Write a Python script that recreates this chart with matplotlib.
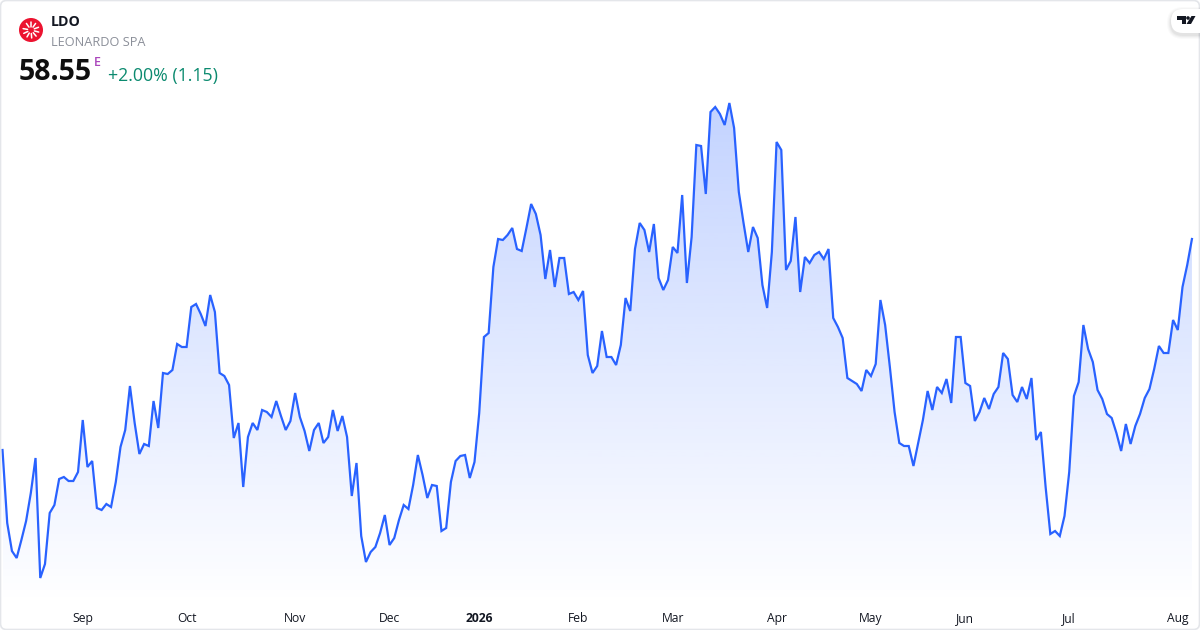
import numpy as np
import matplotlib
matplotlib.use('Agg')
import matplotlib.pyplot as plt
from matplotlib.patches import Circle, FancyBboxPatch, Polygon
from matplotlib.colors import LinearSegmentedColormap

plt.rcParams['font.family'] = ['Open Sans', 'DejaVu Sans']

# daily closes
prices = [
    48.00, 44.35, 42.95, 42.60, 43.50, 44.45, 45.85, 47.60, 41.60, 42.30, 44.85, 45.25, 46.55, 46.65, 46.45, 46.45,
    46.90, 49.50, 47.15, 47.45, 45.10, 45.00, 45.30, 45.15, 46.40, 48.15, 49.00, 51.20, 49.35, 47.80, 48.30, 48.20,
    50.45, 49.10, 51.85, 51.80, 52.00, 53.30, 53.15, 53.15, 55.15, 55.30, 54.80, 54.20, 55.75, 54.90, 51.85, 51.70,
    51.25, 48.60, 49.35, 46.15, 48.65, 49.35, 49.00, 50.00, 49.90, 49.65, 50.45, 49.70, 49.00, 49.45, 50.85, 49.65,
    48.95, 47.95, 49.00, 49.35, 48.35, 48.65, 50.00, 48.95, 49.70, 48.65, 45.70, 47.35, 43.70, 42.40, 42.90, 43.15,
    43.85, 44.75, 43.25, 43.60, 44.50, 45.25, 45.05, 46.25, 47.75, 46.75, 45.60, 46.25, 46.20, 43.95, 44.10, 46.40,
    47.45, 47.70, 47.75, 46.60, 47.40, 49.85, 53.65, 53.85, 57.15, 58.55, 58.50, 58.75, 59.10, 58.05, 57.95, 59.10,
    60.30, 59.80, 58.75, 56.55, 58.00, 56.15, 57.60, 57.60, 55.80, 55.90, 55.50, 55.95, 52.75, 51.85, 52.20, 53.95,
    52.65, 52.65, 52.25, 53.25, 55.60, 54.95, 58.05, 59.35, 59.00, 57.90, 59.30, 56.60, 56.00, 56.50, 58.15, 57.85,
    60.75, 56.35, 58.65, 63.25, 63.20, 60.80, 64.90, 65.15, 64.80, 64.25, 65.35, 64.10, 60.90, 59.35, 57.90, 59.15,
    58.60, 56.25, 55.10, 57.90, 63.40, 63.00, 57.00, 57.45, 59.65, 55.90, 57.65, 57.35, 57.75, 57.90, 57.55, 58.05,
    54.60, 54.15, 53.60, 51.60, 51.45, 51.30, 50.95, 52.00, 51.70, 52.30, 55.50, 54.25, 52.15, 49.90, 48.35, 48.20,
    48.20, 47.20, 48.35, 49.50, 50.95, 50.00, 51.15, 50.85, 51.55, 50.35, 53.65, 53.65, 51.35, 51.20, 49.45, 49.90,
    50.60, 50.05, 50.80, 51.15, 52.85, 52.55, 50.75, 50.40, 51.15, 50.55, 51.60, 48.50, 48.90, 46.15, 43.80, 43.95,
    43.70, 44.70, 46.90, 50.70, 51.40, 54.25, 53.05, 52.40, 51.00, 50.55, 49.80, 49.60, 48.85, 47.95, 49.30, 48.30,
    49.20, 49.80, 50.60, 51.05, 52.05, 53.20, 52.85, 52.85, 54.50, 54.00, 56.15, 57.25, 58.55,
]
tick_idx = [17, 39, 62, 82, 101, 122, 142, 164, 184, 204, 226, 249]
tick_labels = ['Sep', 'Oct', 'Nov', 'Dec', '2026', 'Feb', 'Mar', 'Apr', 'May', 'Jun', 'Jul', 'Aug']

LINE = '#2962ff'
W, H = 1200, 630
AXIS_H = 605

fig = plt.figure(figsize=(12, 6.3), dpi=100, facecolor='white')
ax = fig.add_axes([0, 1 - AXIS_H / H, 1, AXIS_H / H])
x = np.arange(len(prices))
y = np.array(prices)
ax.set_xlim(-2.5 / 4.72, (W - 2.5) / 4.72)
ax.set_ylim(70.5 - AXIS_H / 20, 70.5)

# gradient under the line
cmap = LinearSegmentedColormap.from_list('fill', [(41/255, 98/255, 1, 0.28), (41/255, 98/255, 1, 0.0)])
grad = np.linspace(0, 1, 256).reshape(-1, 1)
bottom = ax.get_ylim()[0]
im = ax.imshow(grad, cmap=cmap, aspect='auto', origin='upper', zorder=1,
               extent=[x[0], x[-1], bottom, y.max()])
poly = ax.fill_between(x, y, bottom, color='none')
im.set_clip_path(poly.get_paths()[0], transform=ax.transData)
ax.set_xlim(-2.5 / 4.72, (W - 2.5) / 4.72)
ax.set_ylim(bottom, 70.5)

ax.plot(x, y, color=LINE, lw=1.6, zorder=2, solid_joinstyle='miter')

ax.set_yticks([])
ax.set_xticks(tick_idx)
ax.set_xticklabels(tick_labels, fontsize=8.7, color='#131722')
ax.tick_params(axis='x', length=0, pad=5.2)
ax.get_xticklabels()[4].set_fontweight('bold')
for s in ax.spines.values():
    s.set_visible(False)
ax.patch.set_alpha(0)

# overlay in pixel coords for the header, logo and frame
top = fig.add_axes([0, 0, 1, 1], facecolor='none')
top.set_xlim(0, W)
top.set_ylim(H, 0)
top.axis('off')

top.add_patch(FancyBboxPatch((0.5, 0.5), W - 1, H - 1, boxstyle='round,pad=0,rounding_size=6',
                             fc='none', ec='#e4e6ea', lw=1.2))

# red logo
top.add_patch(Circle((31, 30), 12, fc='#ec1330', ec='none'))
for a in np.radians([-20, 15, 50, 85, 120, 155, 190, 235, 270, 305]):
    top.plot([31 + 3.5 * np.cos(a), 31 + 8 * np.cos(a)], [30 + 3.5 * np.sin(a), 30 + 8 * np.sin(a)],
             color='white', lw=1.1, solid_capstyle='round')

top.text(51, 22, 'LDO', fontsize=10.2, fontweight='bold', color='#131722', va='center')
top.text(51, 42, 'LEONARDO SPA', fontsize=9.2, color='#8b8f99', va='center')
top.text(19, 72, '58.55', fontsize=20.5, fontweight='bold', color='#0f0f0f', va='center')
top.text(93.5, 62, 'E', fontsize=9, fontweight='semibold', color='#ab47bc', va='center')
top.text(108, 75.5, '+2.00% (1.15)', fontsize=12.8, color='#0b8a6f', va='center')

# TradingView badge
for i, al in enumerate([0.02, 0.025, 0.03, 0.035]):
    g = 4 - i
    top.add_patch(FancyBboxPatch((1171 - g, 9 - g + 2), 60 + 2 * g, 24 + 2 * g,
                                 boxstyle='round,pad=0,rounding_size=%d' % (12 + g), fc='black', ec='none', alpha=al))
top.add_patch(FancyBboxPatch((1171, 9), 60, 24, boxstyle='round,pad=0,rounding_size=12', fc='white', ec='none'))
top.add_patch(Polygon([(1177, 16), (1186, 16), (1186, 24), (1181.5, 24), (1181.5, 19.5), (1177, 19.5)], fc='#131722', ec='none'))
top.add_patch(Circle((1188, 18), 1.8, fc='#131722', ec='none'))
top.add_patch(Polygon([(1191.5, 16), (1195.5, 16), (1191, 24), (1186.5, 24)], fc='#131722', ec='none'))

fig.savefig('out.png', dpi=100)
